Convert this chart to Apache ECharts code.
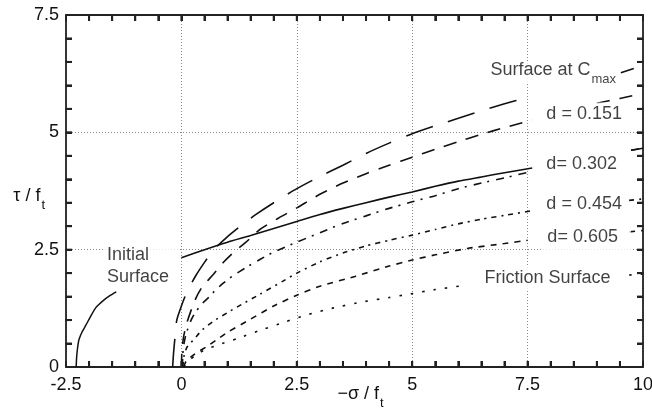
<!DOCTYPE html>
<html>
<head>
<meta charset="utf-8">
<script src="https://cdn.jsdelivr.net/npm/echarts@6/dist/echarts.min.js"></script>
<style>
  html, body { margin: 0; padding: 0; background: #fff; }
  #chart { width: 652px; height: 415px; }
</style>
</head>
<body>
<div id="chart"></div>
<script>
// Yield / damage surfaces in the normalised stress plane (−σ/ft , τ/ft)

const xRange = [-2.5, 10];
const yRange = [0, 7.5];
const tickStep = 2.5;
const minorSplit = 5;

// [−σ/ft, τ/ft] pairs; a null τ breaks the curve where a label sits
const initialSurface = [[-2.28, 0], [-2.27, 0.2], [-2.25, 0.4], [-2.22, 0.58], [-2.15, 0.75], [-2.07, 0.89],
  [-1.96, 1.09], [-1.85, 1.27], [-1.7, 1.41], [-1.55, 1.52], [-1.41, 1.6]];

const surfaceCmax = [[-0.19, 0], [-0.17, 0.3], [-0.14, 0.62], [-0.1, 1.0], [0, 1.3], [0.12, 1.6], [0.32, 1.96],
  [0.5, 2.23], [0.7, 2.5], [1.0, 2.78], [1.3, 3.02], [1.6, 3.24], [2.0, 3.5], [2.5, 3.8], [3.0, 4.06],
  [3.5, 4.3], [4.0, 4.55], [4.5, 4.77], [5.0, 4.97], [5.5, 5.14], [6.0, 5.3], [6.5, 5.46], [7.0, 5.61],
  [7.53, 5.75], [8.5, null], [9.52, 6.27], [9.8, 6.36]];

const damage0151 = [[0.0, 0], [0.01, 0.3], [0.04, 0.6], [0.1, 0.88], [0.2, 1.18], [0.32, 1.48], [0.46, 1.72],
  [0.7, 1.98], [0.9, 2.22], [1.15, 2.46], [1.4, 2.66], [1.7, 2.93], [2.1, 3.17], [2.5, 3.39], [3.0, 3.68],
  [3.5, 3.92], [4.0, 4.12], [4.5, 4.3], [5.0, 4.47], [5.5, 4.64], [6.0, 4.8], [6.5, 4.96], [7.0, 5.1],
  [7.6, 5.26], [8.3, null], [9.0, 5.62], [9.5, 5.72], [9.85, 5.8]];

const damage0302 = [[0.02, 0], [0.04, 0.4], [0.1, 0.7], [0.21, 1.0], [0.3, 1.16], [0.45, 1.35], [0.61, 1.5],
  [0.72, 1.62], [0.9, 1.78], [1.1, 1.93], [1.4, 2.12], [1.7, 2.29], [2.0, 2.45], [2.5, 2.66], [3.0, 2.86],
  [3.5, 3.06], [4.0, 3.22], [4.5, 3.38], [5.0, 3.52], [5.5, 3.65], [6.0, 3.8], [6.5, 3.92], [7.0, 4.03],
  [7.6, 4.17], [8.6, null], [9.74, 4.62], [10, 4.66]];

const damage0454 = [[0.03, 0], [0.06, 0.25], [0.12, 0.42], [0.28, 0.6], [0.46, 0.8], [0.7, 0.98], [1.0, 1.16],
  [1.3, 1.33], [1.7, 1.55], [2.2, 1.83], [2.5, 2.0], [3.0, 2.24], [3.5, 2.43], [4.0, 2.58], [4.5, 2.7],
  [5.0, 2.81], [5.5, 2.93], [6.0, 3.05], [6.5, 3.15], [7.0, 3.23], [7.6, 3.33], [8.6, null], [9.7, 3.55],
  [10, 3.58]];

const damage0605 = [[0.05, 0], [0.1, 0.12], [0.28, 0.27], [0.54, 0.43], [0.75, 0.57], [1.0, 0.74], [1.5, 1.02],
  [2.0, 1.3], [2.5, 1.53], [3.0, 1.72], [3.76, 1.93], [4.5, 2.15], [5.0, 2.28], [5.5, 2.39], [6.22, 2.53],
  [7.0, 2.63], [7.5, 2.7], [8.6, null], [9.7, 2.88], [10, 2.91]];

const frictionSurface = [[0.05, 0], [0.15, 0.12], [0.3, 0.25], [0.5, 0.36], [0.79, 0.47], [1.22, 0.61],
  [1.73, 0.79], [2.24, 0.96], [2.71, 1.11], [3.3, 1.26], [3.94, 1.39], [4.5, 1.48], [4.92, 1.55], [5.5, 1.65],
  [6.15, 1.74], [8.0, null], [9.7, 1.96], [10, 1.98]];

const solidLine = [[0, 2.33], [0.5, 2.5], [1, 2.66], [1.5, 2.8], [2, 2.95], [2.5, 3.1], [3, 3.25], [3.5, 3.38],
  [4, 3.5], [4.5, 3.62], [5, 3.73], [5.5, 3.85], [6, 3.96], [6.5, 4.05], [7, 4.14], [7.6, 4.24], [8.6, null],
  [9.74, 4.62], [10, 4.66]];

// Curve annotations: text, anchor (left edge, vertical centre) in data units
const curveLabels = [
  { text: '{m|Surface at C}{s|max}', at: [6.63, 6.28], pad: [0, 2, 0, 3] },
  { text: 'd = 0.151', at: [7.82, 5.38], pad: [1, 3, 1, 4] },
  { text: 'd= 0.302', at: [7.82, 4.33], pad: [1, 3, 1, 4] },
  { text: 'd = 0.454', at: [7.82, 3.48], pad: [1, 3, 1, 4] },
  { text: 'd= 0.605', at: [7.82, 2.74], pad: [1, 13, 3, 5] },
  { text: 'Friction Surface', at: [6.48, 1.89], pad: [1, 3, 1, 4] },
  { text: 'Initial\nSurface', at: [-1.70, 2.15], pad: [2, 10, 2, 4] }
];

const FONT = '"Liberation Sans", Arial, Helvetica, sans-serif';
const INK = '#111';
const AXIS = '#222';
const TICK_LEN = 6;
const TICK_W = 2;

const richText = {
  m: { fontSize: 18, fontFamily: FONT, color: INK, lineHeight: 22, verticalAlign: 'top' },
  s: { fontSize: 13, fontFamily: FONT, color: INK, lineHeight: 13, verticalAlign: 'top', padding: [12, 0, 0, 1] }
};

function curve(name, data, dash, width) {
  return {
    name: name,
    type: 'line',
    data: data,
    showSymbol: false,
    symbol: 'none',
    connectNulls: false,
    smooth: 0.2,
    silent: true,
    z: 3,
    lineStyle: { color: INK, width: width || 1.6, type: dash, cap: 'butt' }
  };
}

function frameAxis(isX, pos, main) {
  const ax = {
    type: 'value',
    position: pos,
    min: isX ? xRange[0] : yRange[0],
    max: isX ? xRange[1] : yRange[1],
    interval: tickStep,
    nameMoveOverlap: false,
    axisLine: { show: true, onZero: false, lineStyle: { color: AXIS, width: 1.8 } },
    axisTick: { show: true, inside: true, length: TICK_LEN, lineStyle: { color: AXIS, width: TICK_W } },
    minorTick: { show: true, splitNumber: minorSplit, length: TICK_LEN, lineStyle: { color: AXIS, width: TICK_W } },
    splitLine: { show: main, lineStyle: { color: '#8a8a8a', width: 1, type: [1, 2] } },
    axisLabel: {
      show: main,
      fontSize: 18,
      fontFamily: FONT,
      color: INK,
      margin: isX ? 9 : 7,
      formatter: v => String(v)
    }
  };
  if (main && isX) {
    ax.name = '{m|−σ / f}{s|t}';
    ax.nameLocation = 'middle';
    ax.nameGap = 18;
    ax.nameTextStyle = { rich: richText, padding: [0, 0, 0, 12] };
  }
  if (main && !isX) {
    ax.name = '{m|τ / f}{s|t}';
    ax.nameLocation = 'middle';
    ax.nameRotate = 0;
    ax.nameGap = 21;
    ax.nameTextStyle = { rich: richText, align: 'right', padding: [14, 0, 0, 0] };
  }
  return ax;
}

const chart = echarts.init(document.getElementById('chart'), null, { renderer: 'canvas' });

chart.setOption({
  animation: false,
  backgroundColor: '#fff',
  grid: { left: 66, right: 9, top: 15, bottom: 48, containLabel: false, outerBoundsMode: 'none' },
  xAxis: [frameAxis(true, 'bottom', true), frameAxis(true, 'top', false)],
  yAxis: [frameAxis(false, 'left', true), frameAxis(false, 'right', false)],
  series: [
    curve('Initial Surface', initialSurface, 'solid', 1.5),
    curve('Surface at Cmax', surfaceCmax, [28, 16]),
    curve('d = 0.151', damage0151, [13, 10]),
    curve('solid', solidLine, 'solid', 1.6),
    curve('d = 0.302', damage0302, [8, 6, 2, 7]),
    curve('d = 0.454', damage0454, [5, 5, 2, 5]),
    curve('d = 0.605', damage0605, [6, 6]),
    curve('Friction Surface', frictionSurface, [2.5, 9]),
    {
      name: 'labels',
      type: 'scatter',
      silent: true,
      z: 6,
      symbolSize: 0,
      data: curveLabels.map(l => ({
        value: l.at,
        label: {
          show: true,
          position: 'right',
          distance: 0,
          formatter: l.text,
          backgroundColor: '#fff',
          padding: l.pad,
          fontSize: 18,
          lineHeight: 22,
          fontFamily: FONT,
          color: INK,
          rich: richText
        }
      }))
    }
  ]
});

// Inward tick marks on all four sides of the frame, placed through the axis scales
(function drawFrameTicks() {
  const minor = tickStep / minorSplit;
  const px = p => chart.convertToPixel({ xAxisIndex: 0, yAxisIndex: 0 }, p);
  const marks = [];
  const seg = (x1, y1, x2, y2) => marks.push({
    type: 'line',
    silent: true,
    z: 50,
    shape: { x1: x1, y1: y1, x2: x2, y2: y2 },
    style: { stroke: AXIS, lineWidth: TICK_W }
  });
  const nx = Math.round((xRange[1] - xRange[0]) / minor);
  for (let i = 1; i < nx; i++) {
    const v = xRange[0] + i * minor;
    const b = px([v, yRange[0]]);
    const t = px([v, yRange[1]]);
    seg(b[0], b[1] + 0.5, b[0], b[1] - TICK_LEN);
    seg(t[0], t[1] - 0.5, t[0], t[1] + TICK_LEN);
  }
  const ny = Math.round((yRange[1] - yRange[0]) / minor);
  for (let i = 1; i < ny; i++) {
    const v = yRange[0] + i * minor;
    const l = px([xRange[0], v]);
    const r = px([xRange[1], v]);
    seg(l[0] - 0.5, l[1], l[0] + TICK_LEN, l[1]);
    seg(r[0] + 0.5, r[1], r[0] - TICK_LEN, r[1]);
  }
  chart.setOption({ graphic: { elements: marks } });
})();
</script>
</body>
</html>
